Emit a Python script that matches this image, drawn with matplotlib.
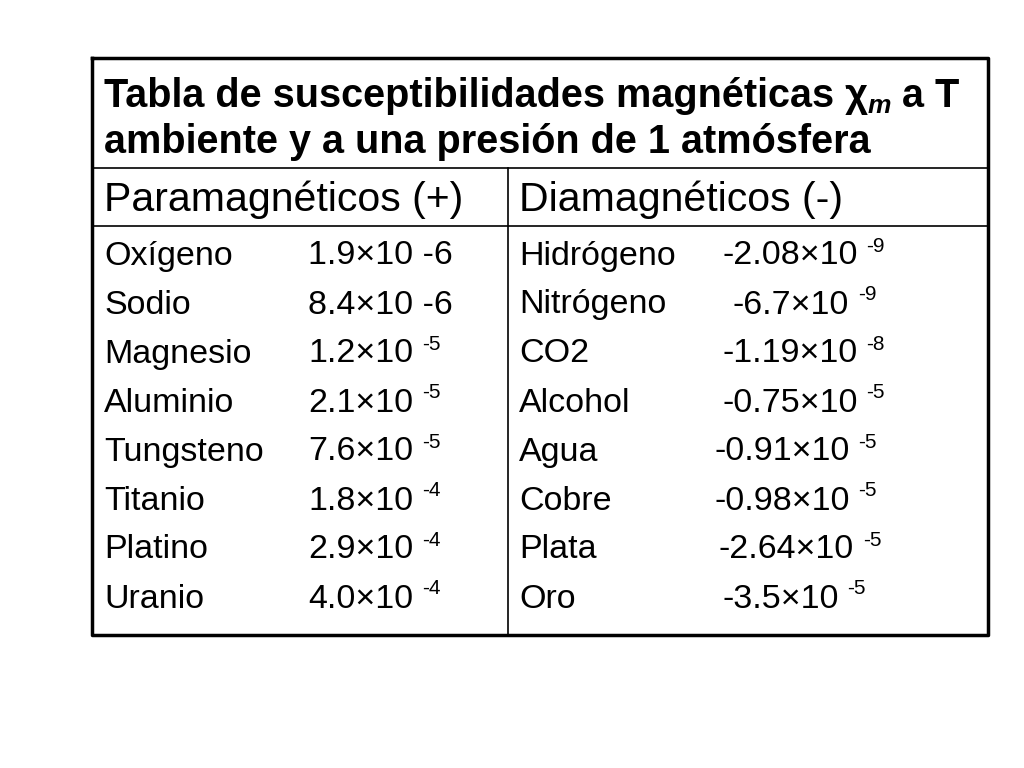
import matplotlib
matplotlib.use("Agg")
import matplotlib.pyplot as plt

plt.rcParams['font.family'] = ['Liberation Sans', 'DejaVu Sans']

titulo1 = "Tabla de susceptibilidades magnéticas χ"
titulo_sub = "m"
titulo2 = " a T"
titulo_linea2 = "ambiente y a una presión de 1 atmósfera"
encabezados = ["Paramagnéticos (+)", "Diamagnéticos (-)"]

para_nombres = ["Oxígeno", "Sodio", "Magnesio", "Aluminio", "Tungsteno",
                "Titanio", "Platino", "Uranio"]
para_base = ["1.9×10 -6", "8.4×10 -6", "1.2×10", "2.1×10", "7.6×10",
             "1.8×10", "2.9×10", "4.0×10"]
para_exp = ["", "", "-5", "-5", "-5", "-4", "-4", "-4"]

dia_nombres = ["Hidrógeno", "Nitrógeno", "CO2", "Alcohol", "Agua",
               "Cobre", "Plata", "Oro"]
dia_base = ["-2.08×10", "-6.7×10", "-1.19×10", "-0.75×10", "-0.91×10",
            "-0.98×10", "-2.64×10", "-3.5×10"]
dia_exp = ["-9", "-9", "-8", "-5", "-5", "-5", "-5", "-5"]

# posiciones x de los valores diamagnéticos (como en el original, desalineados)
dia_x = [722, 733, 722, 722, 714, 714, 719, 722]

fig = plt.figure(figsize=(10.24, 7.68), dpi=100)
ax = fig.add_axes([0, 0, 1, 1])
ax.set_xlim(0, 1024)
ax.set_ylim(768, 0)
ax.axis('off')

# bordes
x0, x1, xm = 92, 988, 508
y0, y1, y2, y3 = 58, 168, 226, 635
ax.plot([x0, x1, x1, x0, x0], [y0, y0, y3, y3, y0], color='black', lw=2.5)
ax.plot([x0, x1], [y1, y1], color='black', lw=1.2)
ax.plot([x0, x1], [y2, y2], color='black', lw=1.2)
ax.plot([xm, xm], [y1, y3], color='black', lw=1.2)

renderer = fig.canvas.get_renderer()

def ancho(t):
    # ancho en píxeles (1 unidad = 1 px)
    return t.get_window_extent(renderer=renderer).width

# título
tf = 28.5
t = ax.text(104, 96, titulo1, fontsize=tf, fontweight='bold', va='center')
xx = 104 + ancho(t)
t = ax.text(xx, 106, titulo_sub, fontsize=19, fontweight='bold', style='italic', va='center')
xx += ancho(t)
ax.text(xx, 96, titulo2, fontsize=tf, fontweight='bold', va='center')
ax.text(104, 142, titulo_linea2, fontsize=tf, fontweight='bold', va='center')

ax.text(104, 200, encabezados[0], fontsize=29.5, va='center')
ax.text(519, 200, encabezados[1], fontsize=29.5, va='center')

fs = 24.5
fe = 15
for i in range(len(para_nombres)):
    y = 256 + i * 49
    ax.text(104, y, para_nombres[i], fontsize=fs, va='center')
    t = ax.text(308, y, para_base[i], fontsize=fs, va='center')
    if para_exp[i]:
        ax.text(308 + ancho(t) + 9, y - 10, para_exp[i], fontsize=fe, va='center')

    ax.text(519, y, dia_nombres[i], fontsize=fs, va='center')
    t = ax.text(dia_x[i], y, dia_base[i], fontsize=fs, va='center')
    ax.text(dia_x[i] + ancho(t) + 9, y - 10, dia_exp[i], fontsize=fe, va='center')

fig.savefig("out.png", dpi=100)
